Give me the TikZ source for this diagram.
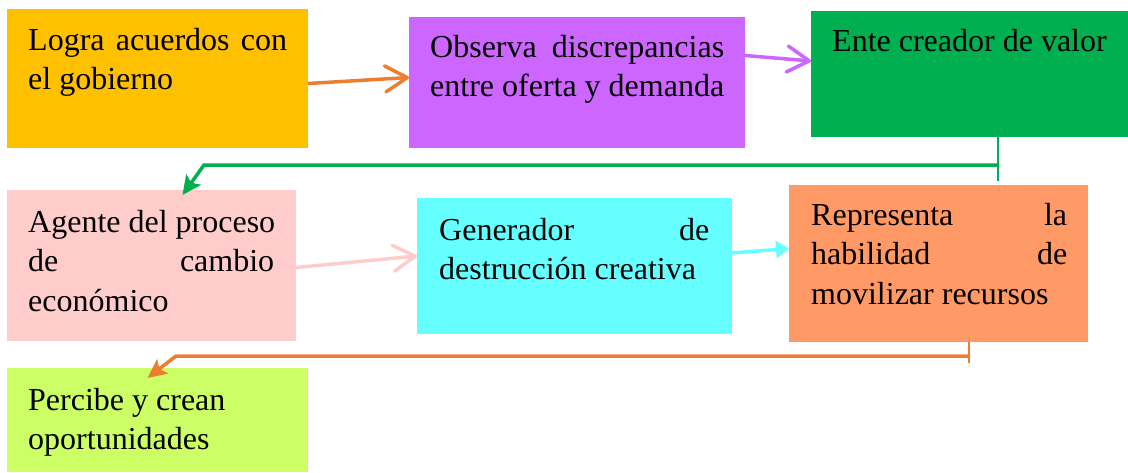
\documentclass[tikz,border=0pt]{standalone}
\usepackage{fontspec}
\setmainfont{Liberation Serif}
\usepackage{tikz}
\usetikzlibrary{positioning,arrows.meta}

\definecolor{cgold}{HTML}{FFC000}
\definecolor{cviolet}{HTML}{CC66FF}
\definecolor{cgreen}{HTML}{00B050}
\definecolor{cpink}{HTML}{FFCCCC}
\definecolor{ccyan}{HTML}{66FFFF}
\definecolor{csalmon}{HTML}{FF9966}
\definecolor{clime}{HTML}{CCFF66}
\definecolor{corange}{HTML}{ED7D31}

% a line spread to the full text width
\newcommand{\spread}[1]{\makebox[\linewidth][s]{\spaceskip=0.25em plus 1fil\relax #1}}

\tikzset{
  box/.style={rectangle,anchor=north west,inner sep=0pt,outer sep=0pt},
  txt/.style={anchor=north west,inner sep=0pt,align=justify,
    font=\fontsize{32}{39.5}\selectfont,
    execute at begin node={\spaceskip=0pt\xspaceskip=0pt\hyphenpenalty=10000\relax}},
  link/.style={line width=3.5pt},
  barb/.style={-{Straight Barb[length=22pt,width=26pt,round]}},
  head/.style={-{Stealth[length=19pt,width=18pt,inset=4pt]}}
}

\begin{document}
\begin{tikzpicture}[x=1pt,y=-1pt]
\useasboundingbox (0,0) rectangle (1128,472);

% boxes
\node[box,fill=cgold,minimum width=301pt,minimum height=139pt] (logra) at (7,9) {};
\node[box,fill=cviolet,minimum width=336pt,minimum height=131pt] (observa) at (409,17) {};
\node[box,fill=cgreen,minimum width=317pt,minimum height=126pt] (ente) at (811,11) {};
\node[box,fill=cpink,minimum width=289pt,minimum height=151pt] (agente) at (7,190) {};
\node[box,fill=ccyan,minimum width=315pt,minimum height=136pt] (generador) at (417,198) {};
\node[box,fill=csalmon,minimum width=299pt,minimum height=157pt] (representa) at (789,185) {};
\node[box,fill=clime,minimum width=301pt,minimum height=104pt] (percibe) at (7,368) {};

% texts
\node[txt,text width=259pt,below right=19pt and 21pt of logra.north west] (tlogra)
  {\spread{Logra acuerdos con}\\el gobierno};
\node[txt,text width=294pt,below right=18pt and 21pt of observa.north west] (tobserva)
  {\spread{Observa discrepancias}\\entre oferta y demanda};
\node[txt,text width=280pt,below right=18pt and 21pt of ente.north west] (tente)
  {Ente creador de valor};
\node[txt,text width=246pt,below right=20pt and 21pt of agente.north west] (tagente)
  {\spread{Agente del proceso}\\\spread{de cambio}\\econ\'omico};
\node[txt,text width=270pt,below right=20pt and 22pt of generador.north west] (tgenerador)
  {\spread{Generador de}\\destrucci\'on creativa};
\node[txt,text width=256pt,below right=18pt and 22pt of representa.north west] (trepresenta)
  {\spread{Representa la}\\\spread{habilidad de}\\movilizar recursos};
\node[txt,text width=259pt,below right=20pt and 21pt of percibe.north west] (tpercibe)
  {Percibe y crean\\oportunidades};

% straight connectors
\draw[link,corange,barb] ([yshift=-5pt]logra.east) -- ([yshift=5pt]observa.west);
\draw[link,cviolet,barb] ([yshift=27pt]observa.east) -- ([yshift=13pt]ente.west);
\draw[link,cpink,barb] ([yshift=-2pt]agente.east) -- ([yshift=10pt]generador.west);
\draw[link,ccyan,-{Triangle[length=13pt,width=17pt]}] ([yshift=13pt]generador.east) -- ([yshift=15pt]representa.west);

% elbow connectors
\coordinate (g1) at (998,181);
\coordinate (g2) at (998,165);
\coordinate (g3) at (204,165);
\draw[link,cgreen,line width=2.5pt] (g1 |- ente.south) -- (g1);
\draw[link,cgreen,head] (g2) -- (g3) -- ([xshift=31pt,yshift=-5pt]agente.north);

\coordinate (o1) at (969,363);
\coordinate (o2) at (969,356);
\coordinate (o3) at (176,356);
\draw[link,corange,line width=2.5pt] (o1 |- representa.south) -- (o1);
\draw[link,corange,head] (o2) -- (o3) -- ([xshift=-10pt,yshift=-10pt]percibe.north);
\end{tikzpicture}
\end{document}
